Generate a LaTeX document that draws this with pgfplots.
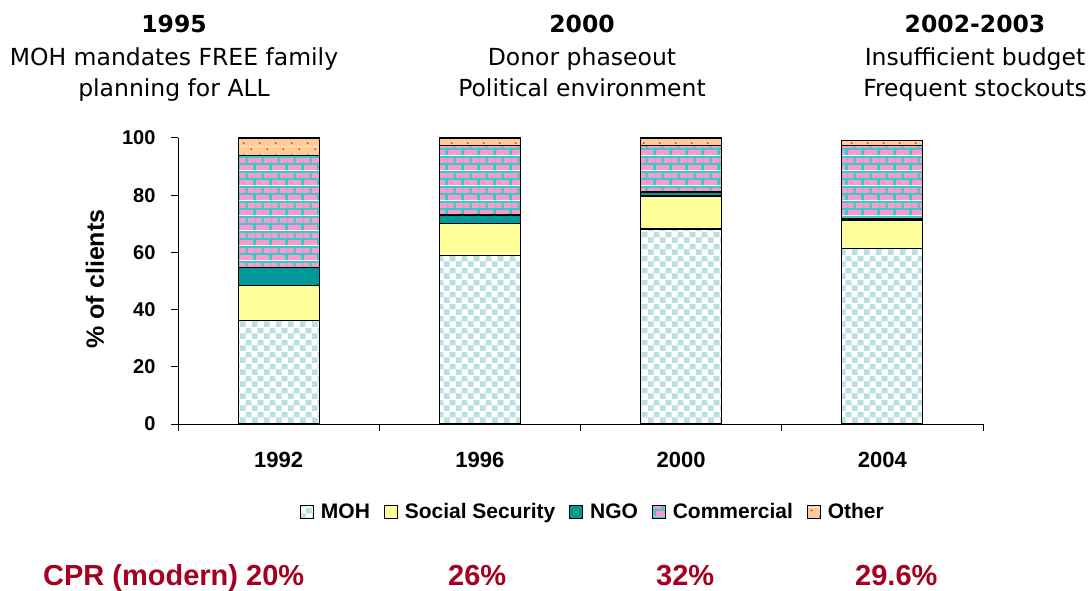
\documentclass[border=0pt]{standalone}
\usepackage{fontspec}
\setmainfont{Liberation Sans}
\newfontfamily\tahoma{DejaVu Sans}
\usepackage{pgfplots}
\usepackage{pgfplotstable}
\pgfplotsset{compat=1.18}
\usetikzlibrary{patterns.meta}

\definecolor{mohcyan}{HTML}{B8E0E3}
\definecolor{ssyellow}{HTML}{FFFF99}
\definecolor{ngoteal}{HTML}{009999}
\definecolor{brickpink}{HTML}{FF99CC}
\definecolor{mortar}{HTML}{33CCCC}
\definecolor{othpeach}{HTML}{FFCC99}
\definecolor{dotpurple}{HTML}{993366}
\definecolor{cprred}{HTML}{A50021}

\tikzdeclarepattern{
  name=mohcheck, type=colored,
  bottom left={(0pt,0pt)}, top right={(12pt,12pt)}, tile size={(12pt,12pt)},
  code={
    \fill[white] (0pt,0pt) rectangle (12pt,12pt);
    \fill[mohcyan] (0pt,0pt) rectangle (6pt,6pt);
    \fill[mohcyan] (6pt,6pt) rectangle (12pt,12pt);
  }
}
\tikzdeclarepattern{
  name=bricks, type=colored,
  bottom left={(0pt,0pt)}, top right={(16pt,15pt)}, tile size={(16pt,15pt)},
  code={
    \fill[mortar] (0pt,0pt) rectangle (16pt,15pt);
    \fill[brickpink] (0pt,0pt) rectangle (14pt,5.2pt);
    \fill[brickpink] (0pt,7.5pt) rectangle (6pt,12.7pt);
    \fill[brickpink] (8pt,7.5pt) rectangle (16pt,12.7pt);
  }
}
\tikzdeclarepattern{
  name=peachdots, type=colored,
  bottom left={(0pt,0pt)}, top right={(16pt,12pt)}, tile size={(16pt,12pt)},
  code={
    \fill[othpeach] (0pt,0pt) rectangle (16pt,12pt);
    \fill[dotpurple] (4pt,3pt) circle (1pt);
    \fill[dotpurple] (12pt,9pt) circle (1pt);
  }
}

\pgfplotstableread{
x moh ss ngo com oth
0 36.2 12.2 6.4 39.0 6.2
1 59.0 11.1 3.0 24.4 2.5
2 68.2 11.5 1.4 16.2 2.7
3 61.3 10.0 0.6 25.4 1.7
}\data

\begin{document}
\begin{tikzpicture}
\useasboundingbox (0pt,0pt) rectangle (1088pt,590pt);
\begin{axis}[
  at={(178pt,166pt)}, anchor=south west,
  width=805pt, height=286pt, scale only axis,
  ybar stacked, bar width=81pt,
  xmin=-0.5, xmax=3.5, ymin=0, ymax=100,
  xtick={0,1,2,3}, xticklabels={1992,1996,2000,2004},
  minor xtick={-0.5,0.5,1.5,2.5,3.5},
  ytick={0,20,40,60,80,100},
  axis lines*=left,
  axis line style={line width=1pt, black},
  tick align=outside,
  major tick length=7pt, minor tick length=7pt,
  major x tick style={draw=none},
  minor x tick style={line width=1pt, black},
  major y tick style={line width=1pt, black},
  /pgf/number format/assume math mode=true,
  yticklabel style={font=\bfseries\fontsize{20}{24}\selectfont, xshift=-12pt},
  xticklabel style={font=\bfseries\fontsize{22}{26}\selectfont, yshift=-18pt},
  legend image code/.code={\draw[#1, line width=0.8pt] (0pt,-6pt) rectangle (13pt,7pt);},
  legend style={at={(0.5155,-0.3077)}, anchor=center, draw=none, fill=none,
    font=\bfseries\fontsize{21}{25}\selectfont, legend columns=-1,
    /tikz/every odd column/.append style={column sep=5pt},
    /tikz/every even column/.append style={column sep=12pt}},
]
\addplot[draw=black, line width=1.2pt, pattern=mohcheck] table[x=x, y=moh] {\data};
\addplot[draw=black, line width=1.2pt, fill=ssyellow] table[x=x, y=ss] {\data};
\addplot[draw=black, line width=1.2pt, fill=ngoteal] table[x=x, y=ngo] {\data};
\addplot[draw=black, line width=1.2pt, pattern=bricks] table[x=x, y=com] {\data};
\addplot[draw=black, line width=1.2pt, pattern=peachdots] table[x=x, y=oth] {\data};
\legend{MOH, Social Security, NGO, Commercial, Other}
\end{axis}

\node[rotate=90, font=\bfseries\fontsize{25}{29}\selectfont] at (95pt,311pt) {\% of clients};

\begin{scope}[every node/.style={inner sep=0pt, font=\tahoma\fontsize{23.5}{28}\selectfont}]
\node[anchor=base] at (174pt,557.5pt) {\bfseries 1995};
\node[anchor=base] at (174pt,524.3pt) {MOH mandates FREE family};
\node[anchor=base] at (174pt,493pt) {planning for ALL};
\node[anchor=base] at (582pt,557.5pt) {\bfseries 2000};
\node[anchor=base] at (582pt,524.3pt) {Donor phaseout};
\node[anchor=base] at (582pt,493pt) {Political environment};
\node[anchor=base] at (975pt,557.5pt) {\bfseries 2002-2003};
\node[anchor=base] at (975pt,524.3pt) {Insufficient budget};
\node[anchor=base] at (975pt,493pt) {Frequent stockouts};
\end{scope}

\begin{scope}[every node/.style={inner sep=0pt, text=cprred, font=\bfseries\fontsize{29}{34}\selectfont}]
\node[anchor=base west] at (43pt,5pt) {CPR (modern) 20\%};
\node[anchor=base west] at (448pt,5pt) {26\%};
\node[anchor=base west] at (656pt,5pt) {32\%};
\node[anchor=base west] at (855pt,5pt) {29.6\%};
\end{scope}
\end{tikzpicture}
\end{document}
